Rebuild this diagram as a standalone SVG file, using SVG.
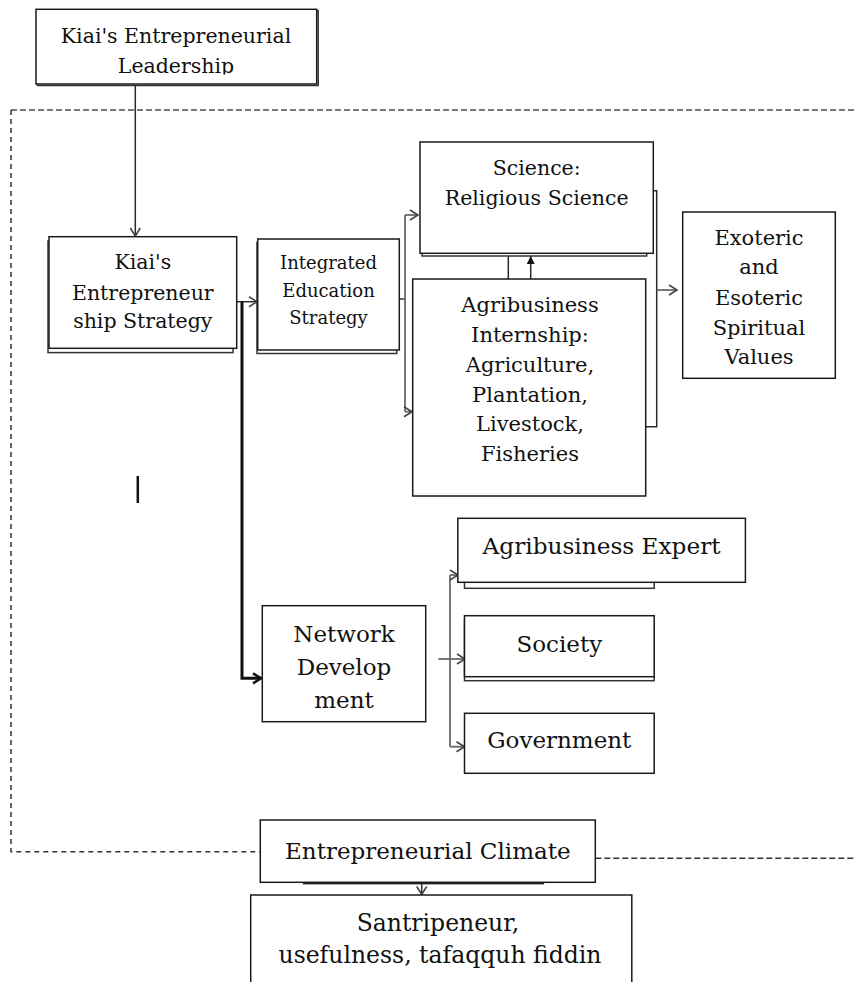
<svg xmlns="http://www.w3.org/2000/svg" width="854" height="982" viewBox="0 0 854 982">
<style>
.box{fill:#fff;stroke:#1a1a1a;stroke-width:1.5}
.sh{fill:#fff;stroke:#333;stroke-width:1.5}
.t{font-family:"DejaVu Serif","Liberation Serif",serif;fill:#111;text-anchor:middle}
.c{fill:none;stroke:#2a2a2a;stroke-width:1.5}
.g{fill:none;stroke:#6a6a6a;stroke-width:1.8}
</style>
<defs>
<marker id="op" markerUnits="userSpaceOnUse" markerWidth="14" markerHeight="14" refX="9" refY="6" orient="auto">
<path d="M1,1 L9,6 L1,11" fill="none" stroke="#444" stroke-width="1.6"/>
</marker>
<marker id="opT" markerUnits="userSpaceOnUse" markerWidth="14" markerHeight="14" refX="9" refY="6" orient="auto">
<path d="M1,1 L9,6 L1,11" fill="none" stroke="#111" stroke-width="2.6"/>
</marker>
<marker id="fl" markerUnits="userSpaceOnUse" markerWidth="10" markerHeight="10" refX="8" refY="4" orient="auto">
<path d="M0,0 L8,4 L0,8 Z" fill="#111"/>
</marker>
<clipPath id="clipTop"><rect x="30" y="0" width="300" height="74.5"/></clipPath>
</defs>

<g id="frame">
<path d="M11,110 H854" fill="none" stroke="#777" stroke-width="1.8" stroke-dasharray="6 3"/>
<path d="M11,110 V851.7 H260" fill="none" stroke="#333" stroke-width="1.5" stroke-dasharray="5 4"/>
<path d="M595.3,858.3 H854" fill="none" stroke="#333" stroke-width="1.5" stroke-dasharray="6 3"/>
</g>

<g id="connectors">
<path class="c" d="M135.3,84 V236" marker-end="url(#op)"/>
<path class="c" d="M236.7,301.7 H257" marker-end="url(#op)"/>
<path d="M242,301.7 V678.3 H261" fill="none" stroke="#111" stroke-width="3" marker-end="url(#opT)"/>
<path class="g" d="M399.3,299 H405 M405,215 V411.7"/>
<path class="g" d="M405,215 H418" marker-end="url(#op)"/>
<path class="g" d="M405,411.7 H412" marker-end="url(#op)"/>
<path class="c" d="M508.3,253.3 V279"/>
<path class="c" d="M530.7,279 V256" marker-end="url(#fl)"/>
<path class="c" d="M653.3,190.7 H656.7 V426.7 H645.7"/>
<path class="g" d="M656.7,290 H677" marker-end="url(#op)"/>
<path class="g" d="M450,575 V746.7"/>
<path class="g" d="M450,575 H458" marker-end="url(#op)"/>
<path class="g" d="M438.3,659 H465" marker-end="url(#op)"/>
<path class="g" d="M450,746.7 H464.5" marker-end="url(#op)"/>
<path class="c" d="M421.7,882.3 V894.5" marker-end="url(#op)"/>
</g>

<line id="mark" x1="137.8" y1="476" x2="137.8" y2="503" stroke="#111" stroke-width="2.5"/>

<g id="n-leadership">
<rect class="sh" x="37.5" y="10.8" width="280.7" height="74.7"/>
<rect class="box" x="36" y="9.3" width="280.7" height="74.7"/>
<g clip-path="url(#clipTop)">
<text class="t" font-size="20.5" x="176" y="43.3">Kiai's Entrepreneurial</text>
<text class="t" font-size="20.5" x="176" y="72.7">Leadership</text>
</g>
</g>

<g id="n-strategy">
<rect class="sh" x="48" y="241" width="185" height="111.6"/>
<rect class="box" x="49" y="236.7" width="187.7" height="111.6"/>
<text class="t" font-size="20.5" x="142.8" y="269.3">Kiai's</text>
<text class="t" font-size="20.5" x="142.8" y="300">Entrepreneur</text>
<text class="t" font-size="20.5" x="142.8" y="328.3">ship Strategy</text>
</g>

<g id="n-integrated">
<rect class="sh" x="257" y="242.5" width="139.7" height="111"/>
<rect class="box" x="257.7" y="239" width="141.6" height="111"/>
<text class="t" font-size="18" x="328.5" y="269">Integrated</text>
<text class="t" font-size="18" x="328.5" y="297">Education</text>
<text class="t" font-size="18" x="328.5" y="323.5">Strategy</text>
</g>

<g id="n-science">
<rect class="sh" x="422" y="145" width="224.7" height="111"/>
<rect class="box" x="420" y="142" width="233.3" height="111.3"/>
<text class="t" font-size="20.5" x="536.7" y="175">Science:</text>
<text class="t" font-size="20.5" x="536.7" y="205">Religious Science</text>
</g>

<g id="n-agri">
<rect class="box" x="412.7" y="279" width="233" height="217"/>
<text class="t" font-size="21" x="530" y="312">Agribusiness</text>
<text class="t" font-size="21" x="530" y="342">Internship:</text>
<text class="t" font-size="21" x="530" y="372">Agriculture,</text>
<text class="t" font-size="21" x="530" y="402">Plantation,</text>
<text class="t" font-size="21" x="530" y="431">Livestock,</text>
<text class="t" font-size="21" x="530" y="461">Fisheries</text>
</g>

<g id="n-values">
<rect class="box" x="682.7" y="212" width="152.6" height="166.3"/>
<text class="t" font-size="21" x="759" y="245">Exoteric</text>
<text class="t" font-size="21" x="759" y="274.3">and</text>
<text class="t" font-size="21" x="759" y="305">Esoteric</text>
<text class="t" font-size="21" x="759" y="335">Spiritual</text>
<text class="t" font-size="21" x="759" y="364.3">Values</text>
</g>

<g id="n-network">
<rect class="box" x="262.3" y="605.7" width="163.4" height="116"/>
<text class="t" font-size="23" x="344" y="641.7">Network</text>
<text class="t" font-size="23" x="344" y="675">Develop</text>
<text class="t" font-size="23" x="344" y="707.7">ment</text>
</g>

<g id="n-expert">
<rect class="sh" x="464.5" y="524" width="189.7" height="64.3"/>
<rect class="box" x="457.8" y="518.3" width="287.6" height="64"/>
<text class="t" font-size="23.2" x="601.6" y="554">Agribusiness Expert</text>
</g>

<g id="n-society">
<rect class="sh" x="464.5" y="619.7" width="189.7" height="61"/>
<rect class="box" x="464.5" y="615.7" width="189.7" height="61"/>
<text class="t" font-size="23" x="559.3" y="651.7">Society</text>
</g>

<g id="n-government">
<rect class="box" x="464.5" y="713.3" width="189.7" height="60"/>
<text class="t" font-size="23" x="559.3" y="748.3">Government</text>
</g>

<g id="n-climate">
<rect fill="#fff" stroke="#222" stroke-width="2.2" x="304" y="824" width="239" height="59.3"/>
<rect class="box" x="260.3" y="820" width="335" height="62.3"/>
<text class="t" font-size="23" x="427.8" y="859.3">Entrepreneurial Climate</text>
</g>

<g id="n-outcome">
<rect class="box" x="250.7" y="895" width="381.1" height="100"/>
<text class="t" font-size="23.5" x="438" y="931">Santripeneur,</text>
<text class="t" font-size="23.5" x="440" y="963.3">usefulness, tafaqquh fiddin</text>
</g>
</svg>
